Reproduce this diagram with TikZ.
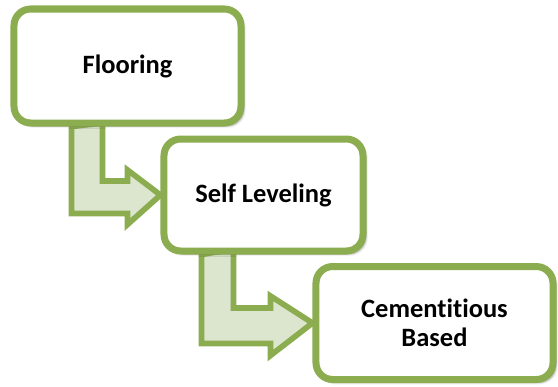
\documentclass[tikz,border=0pt]{standalone}
\usepackage{fontspec}
\setmainfont{Carlito}[Ligatures=NoCommon]
\usetikzlibrary{calc,backgrounds,shadows.blur}
\definecolor{leafgreen}{RGB}{140,172,80}
\definecolor{paleleaf}{RGB}{220,230,207}
\tikzset{
  stepbox/.style={draw=leafgreen,line width=0.21cm,fill=white,rounded corners=0.5cm,
    align=center,font=\fontsize{22.6pt}{24.7pt}\selectfont\bfseries,
    blur shadow={shadow xshift=0.09cm,shadow yshift=-0.09cm,shadow opacity=40}},
  bentarrow/.style={draw=leafgreen,fill=paleleaf,line width=0.17cm,line join=miter}
}
\begin{document}
\begin{tikzpicture}[x=0.03cm,y=-0.03cm]
  \useasboundingbox (0,0) rectangle (558,386);
  \path (127.5,66) node[stepbox,minimum width=6.81cm,minimum height=3.42cm] (flooring) {Flooring};
  \path (263.5,195) node[stepbox,minimum width=5.97cm,minimum height=3.36cm] (selflevel) {Self Leveling};
  \path (434.5,323) node[stepbox,minimum width=7.11cm,minimum height=3.39cm] (cement) {Cementitious\\Based};

  % bent arrows sit behind the boxes
  \begin{pgfonlayer}{background}
    \draw[bentarrow] ($(flooring.south west)+(61,0)$) -- ++(0,87) -- ++(56,0) -- ++(0,11)
      -- (selflevel.west) -- ++(-33,-25) -- ++(0,11) -- ++(-25,0) -- ++(0,-58) -- cycle;
    \draw[bentarrow] ($(selflevel.south west)+(41,0)$) -- ++(0,89) -- ++(69,0) -- ++(0,12)
      -- (cement.west) -- ++(-42,-27) -- ++(0,12) -- ++(-37,0) -- ++(0,-59) -- cycle;
  \end{pgfonlayer}
\end{tikzpicture}
\end{document}
